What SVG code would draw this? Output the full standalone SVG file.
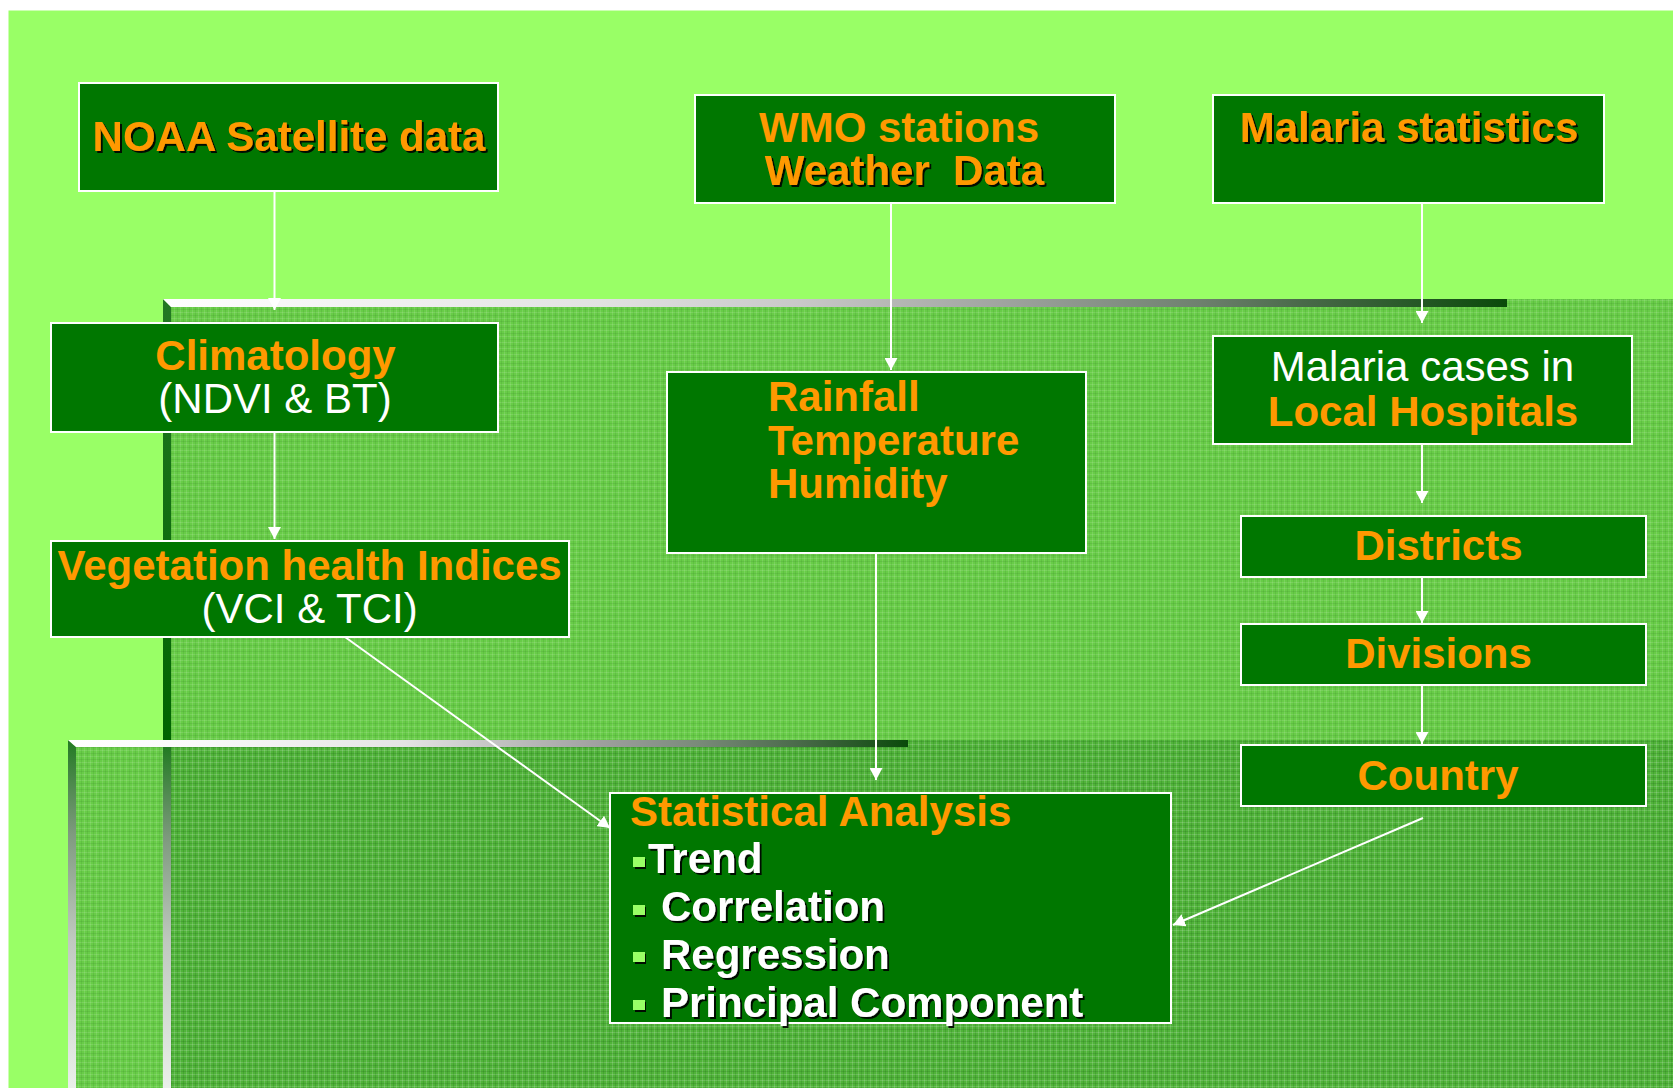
<svg xmlns="http://www.w3.org/2000/svg" width="1673" height="1088" viewBox="0 0 1673 1088">
<defs>
<style>
.box{fill:#007700;stroke:#ffffff;stroke-width:2}
.t{font-family:"Liberation Sans",Arial,sans-serif;font-size:42px}
.b{font-weight:bold}
.o{fill:#FF9900}
.w{fill:#ffffff}
.m{text-anchor:middle}
.sh{filter:url(#shadow)}
.c{stroke:#ffffff;stroke-width:2;fill:none;marker-end:url(#arr)}
.panel{fill:rgb(55,153,42);fill-opacity:0.5}
.tex{fill:url(#tex)}
.bul{fill:#99FF66}
</style>
<marker id="arr" viewBox="0 0 12 13" refX="12" refY="6.5" markerWidth="12" markerHeight="13" markerUnits="userSpaceOnUse" orient="auto">
<path d="M0,0 L12,6.5 L0,13 Z" fill="#ffffff"/>
</marker>
<filter id="shadow" x="-5%" y="-20%" width="112%" height="145%">
<feDropShadow dx="2" dy="2" stdDeviation="0.4" flood-color="#000000" flood-opacity="0.9"/>
</filter>
<pattern id="tex" width="6" height="6" patternUnits="userSpaceOnUse">
<rect x="0" y="0" width="6" height="1" fill="#ffffff" fill-opacity="0.11"/>
<rect x="0" y="0" width="1" height="6" fill="#ffffff" fill-opacity="0.11"/>
<rect x="0" y="3" width="6" height="1" fill="#003300" fill-opacity="0.08"/>
<rect x="3" y="0" width="1" height="6" fill="#003300" fill-opacity="0.08"/>
</pattern>
<linearGradient id="topMid" x1="0" y1="0" x2="1" y2="0">
<stop offset="0" stop-color="#ffffff"/>
<stop offset="0.325" stop-color="#e2e2e2"/>
<stop offset="0.474" stop-color="#c8c8c8"/>
<stop offset="0.623" stop-color="#a0a4a0"/>
<stop offset="0.772" stop-color="#6e806e"/>
<stop offset="0.846" stop-color="#4a6a4a"/>
<stop offset="1" stop-color="#0a4a0a"/>
</linearGradient>
<linearGradient id="topBot" x1="0" y1="0" x2="1" y2="0">
<stop offset="0" stop-color="#ffffff"/>
<stop offset="0.15" stop-color="#fafafa"/>
<stop offset="0.4" stop-color="#e4e4e4"/>
<stop offset="0.63" stop-color="#a0a0a0"/>
<stop offset="0.75" stop-color="#7a8a7a"/>
<stop offset="0.87" stop-color="#4a6a4a"/>
<stop offset="1" stop-color="#0a4a0a"/>
</linearGradient>
<linearGradient id="leftDark" x1="0" y1="0" x2="0" y2="1">
<stop offset="0" stop-color="#237823"/>
<stop offset="1" stop-color="#006400"/>
</linearGradient>
<linearGradient id="leftLight" x1="0" y1="0" x2="0" y2="1">
<stop offset="0" stop-color="#227a22"/>
<stop offset="0.27" stop-color="#7f9a7f"/>
<stop offset="0.57" stop-color="#bfc8bf"/>
<stop offset="1" stop-color="#eaf0ea"/>
</linearGradient>
</defs>

<g id="background">
<rect x="0" y="0" width="1673" height="1088" fill="#ffffff"/>
<rect x="8.5" y="10.5" width="1665" height="1078" fill="#99FF66"/>
</g>

<g id="panel-middle">
<rect class="panel" x="163" y="299" width="1510" height="789"/>
<rect class="tex" x="163" y="299" width="1510" height="789"/>
<polygon points="163,299 171,307 171,740 163,740" fill="url(#leftDark)"/>
<polygon points="163,299 1507,299 1507,307 171,307" fill="url(#topMid)"/>
</g>

<g id="panel-bottom">
<rect class="panel" x="68" y="740" width="1605" height="348"/>
<rect class="tex" x="68" y="740" width="1605" height="348"/>
<rect x="163" y="747" width="8" height="341" fill="url(#leftLight)"/>
<polygon points="68,740 76,747 76,1088 68,1088" fill="url(#leftLight)"/>
<polygon points="68,740 908,740 908,747 76,747" fill="url(#topBot)"/>
</g>

<g id="connectors">
<line class="c" x1="274.5" y1="191" x2="274.5" y2="310"/>
<line class="c" x1="274.5" y1="432" x2="274.5" y2="539"/>
<line class="c" x1="345" y1="637" x2="610" y2="828"/>
<line class="c" x1="891" y1="203" x2="891" y2="370"/>
<line class="c" x1="876" y1="553" x2="876" y2="780"/>
<line class="c" x1="1422" y1="203" x2="1422" y2="323"/>
<line class="c" x1="1422" y1="444" x2="1422" y2="503"/>
<line class="c" x1="1422" y1="577" x2="1422" y2="623"/>
<line class="c" x1="1422" y1="685" x2="1422" y2="744"/>
<line class="c" x1="1423" y1="818" x2="1173" y2="925"/>
</g>

<g id="noaa">
<rect class="box" x="79" y="83" width="419" height="108"/>
<text class="t b o m sh" x="289" y="151">NOAA Satellite data</text>
</g>

<g id="wmo">
<rect class="box" x="695" y="95" width="420" height="108"/>
<text class="t b o m" x="899" y="142">WMO stations</text>
<text class="t b o m sh" x="904.5" y="185" xml:space="preserve">Weather  Data</text>
</g>

<g id="malaria-stats">
<rect class="box" x="1213" y="95" width="391" height="108"/>
<text class="t b o m sh" x="1409" y="142">Malaria statistics</text>
</g>

<g id="climatology">
<rect class="box" x="51" y="323" width="447" height="109"/>
<text class="t b o m" x="275.5" y="370">Climatology</text>
<text class="t w m" x="275" y="413">(NDVI &amp; BT)</text>
</g>

<g id="rainfall">
<rect class="box" x="667" y="372" width="419" height="181"/>
<text class="t b o" x="768" y="411">Rainfall</text>
<text class="t b o" x="768" y="455">Temperature</text>
<text class="t b o" x="768" y="498">Humidity</text>
</g>

<g id="malaria-cases">
<rect class="box" x="1213" y="336" width="419" height="108"/>
<text class="t w m" x="1422.5" y="381">Malaria cases in</text>
<text class="t b o m" x="1423" y="426">Local Hospitals</text>
</g>

<g id="vegetation">
<rect class="box" x="51" y="541" width="518" height="96"/>
<text class="t b o m" x="309.6" y="580">Vegetation health Indices</text>
<text class="t w m" x="309.6" y="623">(VCI &amp; TCI)</text>
</g>

<g id="districts">
<rect class="box" x="1241" y="516" width="405" height="61"/>
<text class="t b o m" x="1438.5" y="560">Districts</text>
</g>

<g id="divisions">
<rect class="box" x="1241" y="624" width="405" height="61"/>
<text class="t b o m" x="1438.5" y="668">Divisions</text>
</g>

<g id="country">
<rect class="box" x="1241" y="745" width="405" height="61"/>
<text class="t b o m" x="1438" y="790">Country</text>
</g>

<g id="statistical">
<rect class="box" x="610" y="793" width="561" height="230"/>
<text class="t b o" x="630" y="826">Statistical Analysis</text>
<rect class="bul sh" x="633" y="857" width="12" height="10"/>
<text class="t b w sh" x="648" y="873">Trend</text>
<rect class="bul sh" x="633" y="905" width="12" height="10"/>
<text class="t b w sh" x="661" y="921">Correlation</text>
<rect class="bul sh" x="633" y="952" width="12" height="10"/>
<text class="t b w sh" x="661" y="969">Regression</text>
<rect class="bul sh" x="633" y="1000" width="12" height="10"/>
<text class="t b w sh" x="661" y="1017">Principal Component</text>
</g>
</svg>
